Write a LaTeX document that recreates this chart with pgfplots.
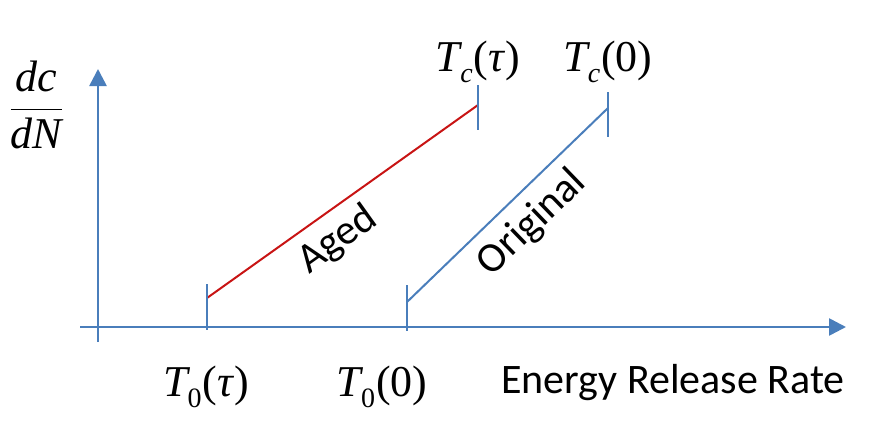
\documentclass[border=0pt]{standalone}
\usepackage{fontspec}
\setmainfont{Carlito}
\newfontfamily\tnr{Liberation Serif}
\usepackage{pgfplots}
\pgfplotsset{compat=1.18}
\usetikzlibrary{arrows.meta}

\definecolor{axblue}{RGB}{74,126,187}
\definecolor{agedred}{RGB}{200,20,20}

% T with a low subscript, then the bracket
\newcommand{\lab}[2]{{\tnr\itshape T}\raisebox{-0.55ex}{\tnr\fontsize{14}{15}\selectfont #1}\kern0.5pt{\tnr(#2)}}

\begin{document}
\begin{tikzpicture}
\begin{axis}[
    scale only axis,
    width=436pt, height=217.5pt,
    xmin=0, xmax=872, ymin=0, ymax=435,
    hide axis,
    clip=false,
]
% frame, keeps the page the reference's size
\addplot[draw=none] coordinates {(0,0)(872,435)};

% axes
\addplot[axblue, line width=1.3pt, -{Triangle[length=8.5pt,width=8.5pt]}]
    coordinates {(80,108)(846,108)};
\addplot[axblue, line width=1.3pt, -{Triangle[length=8.5pt,width=8.5pt]}]
    coordinates {(98,93)(98,366)};

% aged
\addplot[agedred, line width=1pt] coordinates {(207,137)(478,330)};
\addplot[axblue, line width=1.2pt] coordinates {(207,151)(207,105)};
\addplot[axblue, line width=1.2pt] coordinates {(478,350)(478,305)};

% original
\addplot[axblue, line width=1pt] coordinates {(407,133)(608,327)};
\addplot[axblue, line width=1.2pt] coordinates {(407,150)(407,104)};
\addplot[axblue, line width=1.2pt] coordinates {(608,343)(608,298)};

\fontsize{22}{26}\selectfont
\node[inner sep=0pt, anchor=west] at (axis cs:8,330) {$\displaystyle\frac{\mbox{\tnr\itshape dc}}{\mbox{\tnr\itshape dN}}$};
\node[inner sep=0pt] at (axis cs:206,48) {\lab{0}{\textit{τ}}};
\node[inner sep=0pt] at (axis cs:382,48) {\lab{0}{0}};
\node[inner sep=0pt] at (axis cs:478,373) {\lab{\itshape c}{\textit{τ}}};
\node[inner sep=0pt] at (axis cs:608,373) {\lab{\itshape c}{0}};
\node[inner sep=0pt, font=\fontsize{21}{25}\selectfont] at (axis cs:673,52) {Energy Release Rate};
\node[rotate=35.5, font=\fontsize{21}{25}\selectfont] at (axis cs:338,195) {Aged};
\node[rotate=44, font=\fontsize{21}{25}\selectfont] at (axis cs:532,212) {Original};
\end{axis}
\end{tikzpicture}
\end{document}
